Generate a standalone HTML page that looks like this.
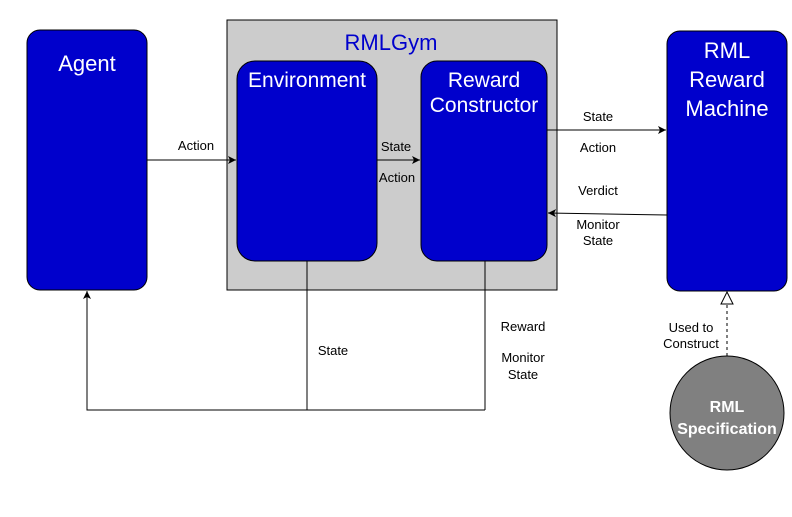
<!DOCTYPE html>
<html><head><style>body{margin:0;background:#fff} svg{font-family:"Liberation Sans",Arial,sans-serif}</style></head><body>
<svg width="792" height="512" xmlns="http://www.w3.org/2000/svg">
<defs>
<marker id="a" markerWidth="10" markerHeight="10" refX="8" refY="4" orient="auto" markerUnits="userSpaceOnUse"><path d="M0,0 L8,4 L0,8 L2,4 Z" fill="#000"/></marker>
</defs>
<rect x="227" y="20" width="330" height="270" fill="#cccccc" stroke="#000"/>
<text x="391" y="50" font-size="22" fill="#0000cc" text-anchor="middle">RMLGym</text>
<rect x="27" y="30" width="120" height="260" rx="13" fill="#0000cc" stroke="#000"/>
<text x="87" y="71" font-size="22" fill="#fff" text-anchor="middle">Agent</text>
<rect x="237" y="61" width="140" height="200" rx="18" fill="#0000cc" stroke="#000"/>
<text x="307" y="87" font-size="21" fill="#fff" text-anchor="middle">Environment</text>
<rect x="421" y="61" width="126" height="200" rx="16" fill="#0000cc" stroke="#000"/>
<text x="484" y="87" font-size="21" fill="#fff" text-anchor="middle">Reward</text>
<text x="484" y="112" font-size="21" fill="#fff" text-anchor="middle">Constructor</text>
<rect x="667" y="31" width="120" height="260" rx="13" fill="#0000cc" stroke="#000"/>
<text x="727" y="58" font-size="22" fill="#fff" text-anchor="middle">RML</text>
<text x="727" y="87" font-size="22" fill="#fff" text-anchor="middle">Reward</text>
<text x="727" y="116" font-size="22" fill="#fff" text-anchor="middle">Machine</text>
<circle cx="727" cy="413" r="57" fill="#808080" stroke="#000"/>
<text x="727" y="412" font-size="16" font-weight="bold" fill="#fff" text-anchor="middle">RML</text>
<text x="727" y="434" font-size="16" font-weight="bold" fill="#fff" text-anchor="middle">Specification</text>
<g stroke="#000" fill="none">
<line x1="147" y1="160" x2="236" y2="160" marker-end="url(#a)"/>
<line x1="377" y1="160" x2="420" y2="160" marker-end="url(#a)"/>
<line x1="547" y1="130" x2="666" y2="130" marker-end="url(#a)"/>
<line x1="667" y1="215" x2="548" y2="213" marker-end="url(#a)"/>
<line x1="727" y1="356" x2="727" y2="304" stroke-dasharray="3,3"/>
<path d="M727,292 L733,304 L721,304 Z" fill="#fff"/>
<line x1="307" y1="261" x2="307" y2="410"/>
<line x1="485" y1="261" x2="485" y2="410"/>
<path d="M485,410 L87,410 L87,291" marker-end="url(#a)"/>
</g>
<g font-size="13" fill="#000" text-anchor="middle">
<text x="196" y="150">Action</text>
<text x="396" y="151">State</text>
<text x="397" y="182">Action</text>
<text x="598" y="121">State</text>
<text x="598" y="152">Action</text>
<text x="598" y="195">Verdict</text>
<text x="598" y="229">Monitor</text>
<text x="598" y="245">State</text>
<text x="523" y="331">Reward</text>
<text x="523" y="362">Monitor</text>
<text x="523" y="379">State</text>
<text x="333" y="355">State</text>
<text x="691" y="332">Used to</text>
<text x="691" y="348">Construct</text>
</g>
</svg>
</body></html>
